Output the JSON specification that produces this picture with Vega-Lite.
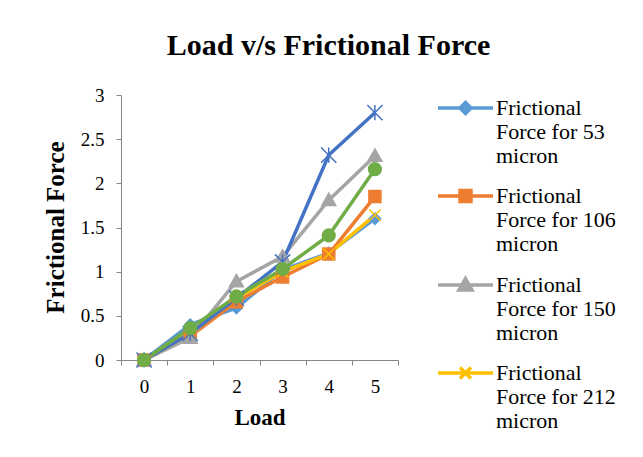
{
  "$schema": "https://vega.github.io/schema/vega-lite/v6.json",
  "autosize": {"type": "none"},
  "width": 277,
  "height": 265,
  "padding": {"left": 121, "top": 95, "right": 245, "bottom": 97},
  "background": "white",
  "config": {
    "view": {"stroke": null},
    "font": "Liberation Serif",
    "axis": {
      "grid": false,
      "domainColor": "#868686",
      "tickColor": "#868686",
      "domainWidth": 1,
      "tickWidth": 1,
      "tickSize": 5,
      "labelFont": "Liberation Serif",
      "labelFontSize": 19,
      "labelColor": "#000000",
      "titleFont": "Liberation Serif",
      "titleFontWeight": "bold",
      "titleColor": "#000000"
    },
    "point": {"size": 160, "strokeWidth": 1.5, "opacity": 1}
  },
  "title": {
    "text": "Load v/s Frictional Force",
    "font": "Liberation Serif",
    "fontSize": 30,
    "fontWeight": "bold",
    "color": "#000000",
    "anchor": "middle",
    "frame": "group",
    "dx": 69,
    "baseline": "alphabetic",
    "offset": 1
  },
  "data": {
    "values": [
      {"load": 0, "series": "Frictional Force for 53 micron", "force": 0},
      {"load": 1, "series": "Frictional Force for 53 micron", "force": 0.40},
      {"load": 2, "series": "Frictional Force for 53 micron", "force": 0.59},
      {"load": 3, "series": "Frictional Force for 53 micron", "force": 1.02},
      {"load": 4, "series": "Frictional Force for 53 micron", "force": 1.21},
      {"load": 5, "series": "Frictional Force for 53 micron", "force": 1.60},
      {"load": 0, "series": "Frictional Force for 106 micron", "force": 0},
      {"load": 1, "series": "Frictional Force for 106 micron", "force": 0.27},
      {"load": 2, "series": "Frictional Force for 106 micron", "force": 0.66},
      {"load": 3, "series": "Frictional Force for 106 micron", "force": 0.94},
      {"load": 4, "series": "Frictional Force for 106 micron", "force": 1.20},
      {"load": 5, "series": "Frictional Force for 106 micron", "force": 1.85},
      {"load": 0, "series": "Frictional Force for 150 micron", "force": 0},
      {"load": 1, "series": "Frictional Force for 150 micron", "force": 0.25},
      {"load": 2, "series": "Frictional Force for 150 micron", "force": 0.89},
      {"load": 3, "series": "Frictional Force for 150 micron", "force": 1.17},
      {"load": 4, "series": "Frictional Force for 150 micron", "force": 1.81},
      {"load": 5, "series": "Frictional Force for 150 micron", "force": 2.31},
      {"load": 0, "series": "Frictional Force for 212 micron", "force": 0},
      {"load": 1, "series": "Frictional Force for 212 micron", "force": 0.30},
      {"load": 2, "series": "Frictional Force for 212 micron", "force": 0.70},
      {"load": 3, "series": "Frictional Force for 212 micron", "force": 1.00},
      {"load": 4, "series": "Frictional Force for 212 micron", "force": 1.20},
      {"load": 5, "series": "Frictional Force for 212 micron", "force": 1.64},
      {"load": 0, "series": "Frictional Force for 300 micron", "force": 0},
      {"load": 1, "series": "Frictional Force for 300 micron", "force": 0.30},
      {"load": 2, "series": "Frictional Force for 300 micron", "force": 0.70},
      {"load": 3, "series": "Frictional Force for 300 micron", "force": 1.11},
      {"load": 4, "series": "Frictional Force for 300 micron", "force": 2.32},
      {"load": 5, "series": "Frictional Force for 300 micron", "force": 2.80},
      {"load": 0, "series": "Frictional Force for 425 micron", "force": 0},
      {"load": 1, "series": "Frictional Force for 425 micron", "force": 0.36},
      {"load": 2, "series": "Frictional Force for 425 micron", "force": 0.72},
      {"load": 3, "series": "Frictional Force for 425 micron", "force": 1.03},
      {"load": 4, "series": "Frictional Force for 425 micron", "force": 1.41},
      {"load": 5, "series": "Frictional Force for 425 micron", "force": 2.16}
    ]
  },
  "encoding": {
    "x": {
      "field": "load",
      "type": "ordinal",
      "scale": {"type": "band", "paddingInner": 0, "paddingOuter": 0},
      "axis": {
        "title": "Load",
        "titleFontSize": 23,
        "labelAngle": 0,
        "tickBand": "extent",
        "labelPadding": 12,
        "titlePadding": 10
      }
    },
    "y": {
      "field": "force",
      "type": "quantitative",
      "scale": {"domain": [0, 3], "nice": false},
      "axis": {
        "title": "Frictional Force",
        "titleFontSize": 25,
        "format": "~g",
        "values": [0, 0.5, 1, 1.5, 2, 2.5, 3],
        "labelPadding": 12,
        "titleX": -66,
        "titleY": 132,
        "titleAngle": -90,
        "titleAlign": "center",
        "titleBaseline": "middle"
      }
    }
  },
  "layer": [
    {
      "mark": {"type": "line", "strokeWidth": 3.5},
      "encoding": {
        "color": {
          "field": "series",
          "type": "nominal",
          "scale": {
            "domain": ["Frictional Force for 53 micron", "Frictional Force for 106 micron", "Frictional Force for 150 micron", "Frictional Force for 212 micron", "Frictional Force for 300 micron", "Frictional Force for 425 micron"],
            "range": ["#5B9BD5", "#ED7D31", "#A5A5A5", "#FFC000", "#4472C4", "#70AD47"]
          },
          "legend": {
            "title": null,
            "orient": "none",
            "legendX": 333.5,
            "legendY": 2,
            "values": ["Frictional Force for 53 micron", "Frictional Force for 106 micron", "Frictional Force for 150 micron", "Frictional Force for 212 micron"],
            "symbolSize": 100,
            "symbolStrokeWidth": 3.5,
            "labelFont": "Liberation Serif",
            "labelFontSize": 22,
            "labelLineHeight": 24,
            "labelColor": "#000000",
            "labelOffset": 19.5,
            "labelLimit": 300,
            "rowPadding": 16,
            "labelExpr": "[slice(datum.label, 0, 10), slice(datum.label, 11, length(datum.label) - 7), 'micron']",
            "encode": {
              "symbols": {
                "update": {
                  "shape": {"signal": "['M-5.5,0H5.5M0,-1.1L1.1,0L0,1.1L-1.1,0Z', 'M-5.5,0H5.5M-1.1,-1.1H1.1V1.1H-1.1Z', 'M-5.5,0H5.5M0,-1.3L1.3,1H-1.3Z', 'M-5.5,0H5.5M-1.1,-1.1L1.1,1.1M-1.1,1.1L1.1,-1.1', 'M-5.5,0H5.5', 'M-5.5,0H5.5'][datum.index]"},
                  "fill": {"signal": "scale('color', datum.value)"},
                  "stroke": {"signal": "scale('color', datum.value)"},
                  "strokeWidth": {"value": 3.5},
                  "opacity": {"value": 1}
                }
              }
            }
          }
        }
      }
    },
    {
      "transform": [{"filter": {"field": "series", "equal": "Frictional Force for 53 micron"}}],
      "mark": {"type": "point", "shape": "M0,-0.9L0.9,0L0,0.9L-0.9,0Z", "fill": "#5B9BD5", "stroke": "#5B9BD5", "filled": true}
    },
    {
      "transform": [{"filter": {"field": "series", "equal": "Frictional Force for 106 micron"}}],
      "mark": {"type": "point", "shape": "M-0.95,-0.95H0.95V0.95H-0.95Z", "fill": "#ED7D31", "stroke": "#ED7D31", "filled": true}
    },
    {
      "transform": [{"filter": {"field": "series", "equal": "Frictional Force for 150 micron"}}],
      "mark": {"type": "point", "shape": "M0,-1.1L1.1,0.85H-1.1Z", "fill": "#A5A5A5", "stroke": "#A5A5A5", "filled": true}
    },
    {
      "transform": [{"filter": {"field": "series", "equal": "Frictional Force for 212 micron"}}],
      "mark": {"type": "point", "shape": "M-0.9,-0.9L0.9,0.9M-0.9,0.9L0.9,-0.9", "fill": "#FFC000", "stroke": "#FFC000", "filled": false}
    },
    {
      "transform": [{"filter": {"field": "series", "equal": "Frictional Force for 300 micron"}}],
      "mark": {"type": "point", "shape": "M-1.2,-1.2L1.2,1.2M-1.2,1.2L1.2,-1.2M0,-1.2V1.2", "fill": "#4472C4", "stroke": "#4472C4", "filled": false}
    },
    {
      "transform": [{"filter": {"field": "series", "equal": "Frictional Force for 425 micron"}}],
      "mark": {"type": "point", "shape": "circle", "fill": "#70AD47", "stroke": "#70AD47", "filled": true}
    }
  ]
}
